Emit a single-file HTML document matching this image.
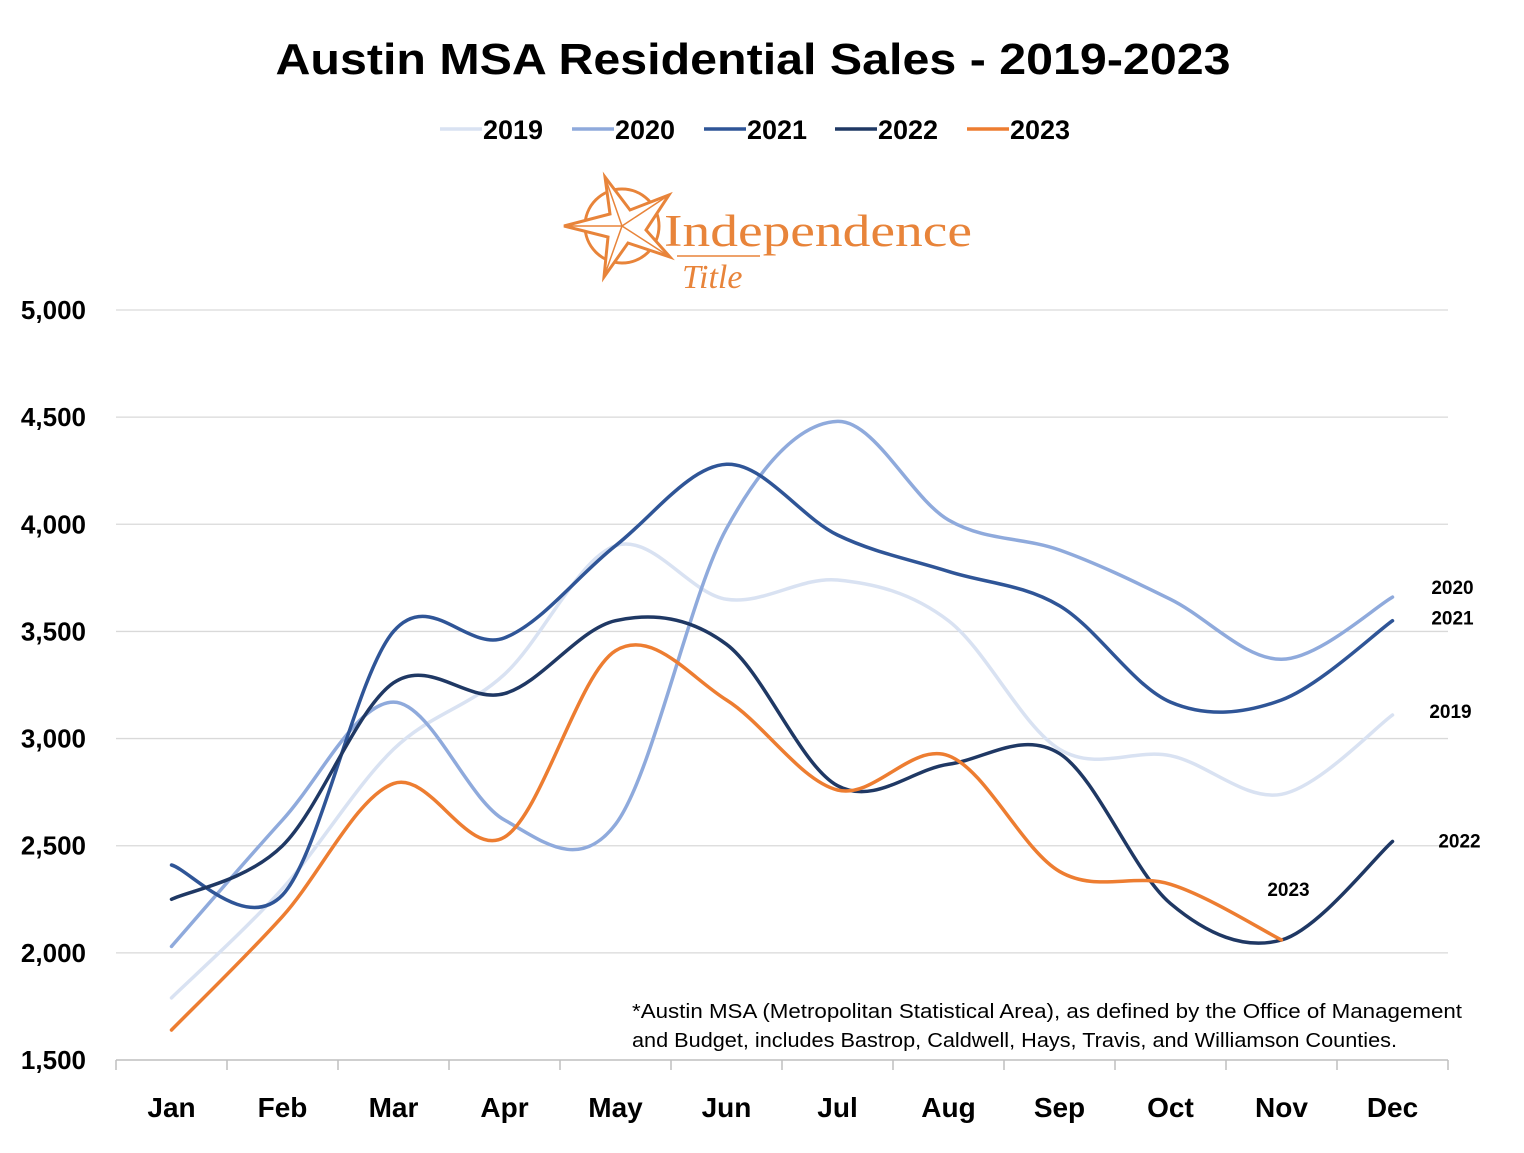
<!DOCTYPE html>
<html><head><meta charset="utf-8"><style>
html,body{margin:0;padding:0;background:#fff;}
svg{display:block;font-family:"Liberation Sans",sans-serif;}
</style></head><body>
<svg id="chart" width="1524" height="1153" viewBox="0 0 1524 1153">
<text x="753" y="74" text-anchor="middle" font-size="44" font-weight="bold" textLength="955" lengthAdjust="spacingAndGlyphs">Austin MSA Residential Sales - 2019-2023</text>
<g id="legend"></g>
<g>
<circle cx="622" cy="226" r="37" fill="none" stroke="#E8843A" stroke-width="3"/>
<polygon points="605,177 630,210 669,195 646,230 670,257 628,243 604,277 608,237 564,226 610,214" fill="#fff" stroke="#E8843A" stroke-width="3"/>
<polygon points="605,177 622,226 669,195 622,226 670,257 622,226 604,277 622,226 564,226 622,226" fill="none" stroke="#E8843A" stroke-width="1.5"/>
<text x="664" y="246" font-family="Liberation Serif,serif" font-size="45" fill="#E8843A" textLength="308" lengthAdjust="spacingAndGlyphs">Independence</text>
<line x1="677" y1="256" x2="760" y2="256" stroke="#E8843A" stroke-width="1.5"/>
<text x="682" y="288" font-family="Liberation Serif,serif" font-style="italic" font-size="34" fill="#E8843A">Title</text>
</g>
<g id="grid"></g>
<g id="series"></g>
<g id="labels"></g>
<text x="632" y="1018" font-size="20" fill="#000" textLength="830" lengthAdjust="spacingAndGlyphs">*Austin MSA (Metropolitan Statistical Area), as defined by the Office of Management</text>
<text x="632" y="1047" font-size="20" fill="#000" textLength="765" lengthAdjust="spacingAndGlyphs">and Budget, includes Bastrop, Caldwell, Hays, Travis, and Williamson Counties.</text>
</svg>
<script>
const months=["Jan","Feb","Mar","Apr","May","Jun","Jul","Aug","Sep","Oct","Nov","Dec"];
const yTicks=[1500,2000,2500,3000,3500,4000,4500,5000];
const seriesNames=["2019","2020","2021","2022","2023"];
const seriesColors=["#D9E2F2","#8FAADC","#2F5597","#1F3864","#ED7D31"];
const s2019=[1790,2300,2950,3300,3900,3650,3740,3550,2950,2920,2740,3110];
const s2020=[2030,2620,3170,2620,2600,3980,4480,4020,3880,3650,3370,3660];
const s2021=[2410,2270,3500,3470,3900,4280,3950,3780,3620,3170,3180,3550];
const s2022=[2250,2500,3260,3210,3550,3440,2780,2880,2930,2230,2060,2520];
const s2023=[1640,2170,2790,2540,3410,3180,2760,2920,2380,2320,2060];
const allSeries=[s2019,s2020,s2021,s2022,s2023];
const NS="http://www.w3.org/2000/svg";
const L=116,R=1448,T=310,B=1060,yMin=1500,yMax=5000;
const bw=(R-L)/months.length;
const xPos=i=>L+bw*(i+0.5);
const yPos=v=>B-(v-yMin)/(yMax-yMin)*(B-T);
function mk(tag,attrs,parent){const e=document.createElementNS(NS,tag);for(const k in attrs)e.setAttribute(k,attrs[k]);parent.appendChild(e);return e;}
const grid=document.getElementById('grid');
yTicks.forEach(v=>{
  const y=yPos(v);
  if(v!==yMin){const gl=mk('line',{x1:L,x2:R,y1:y,y2:y,stroke:'#D9D9D9','stroke-width':1.3},grid);
  
  }
  const t=mk('text',{x:86,y:y+9,'text-anchor':'end','font-size':26,'font-weight':'bold'},grid);
  t.textContent=v.toLocaleString('en-US');
  
  
});
const ax=mk('line',{x1:L,x2:R,y1:B,y2:B,stroke:'#BFBFBF','stroke-width':1.5},grid);


for(let i=0;i<=months.length;i++){mk('line',{x1:L+bw*i,x2:L+bw*i,y1:B,y2:B+10,stroke:'#BFBFBF','stroke-width':1.5},grid);}
months.forEach((m,i)=>{
  const t=mk('text',{x:xPos(i),y:1117,'text-anchor':'middle','font-size':28,'font-weight':'bold'},grid);
  t.textContent=m;
  
  
});
function smooth(pts){
  let d='M'+pts[0][0]+','+pts[0][1];
  for(let i=0;i<pts.length-1;i++){
    const p0=pts[i-1]||pts[i],p1=pts[i],p2=pts[i+1],p3=pts[i+2]||p2;
    const c1=[p1[0]+(p2[0]-p0[0])/6,p1[1]+(p2[1]-p0[1])/6];
    const c2=[p2[0]-(p3[0]-p1[0])/6,p2[1]-(p3[1]-p1[1])/6];
    d+=' C'+c1[0]+','+c1[1]+' '+c2[0]+','+c2[1]+' '+p2[0]+','+p2[1];
  }
  return d;
}
const sg=document.getElementById('series');
allSeries.forEach((s,k)=>{
  const pts=s.map((v,i)=>[xPos(i),yPos(v)]);
  const p=mk('path',{d:smooth(pts),fill:'none',stroke:seriesColors[k],'stroke-width':3.5,'stroke-linecap':'round'},sg);
  
  
});
const lab=document.getElementById('labels');
const endOff=[[58,-4],[60,-10],[60,-3],[67,-1],[7,-51]];
allSeries.forEach((s,k)=>{
  const i=s.length-1;
  const t=mk('text',{x:xPos(i)+endOff[k][0],y:yPos(s[i])+endOff[k][1]+7,'text-anchor':'middle','font-size':19,'font-weight':'bold'},lab);
  t.textContent=seriesNames[k];
  
  
});
const lg=document.getElementById('legend');
const legX=[440,572,704,835,967];
seriesNames.forEach((n,k)=>{
  const l=mk('line',{x1:legX[k],x2:legX[k]+42,y1:129,y2:129,stroke:seriesColors[k],'stroke-width':3.5},lg);
  
  
  const t=mk('text',{x:legX[k]+43,y:139,'font-size':27,'font-weight':'bold'},lg);
  t.textContent=n;
  
  
});
</script>
</body></html>
